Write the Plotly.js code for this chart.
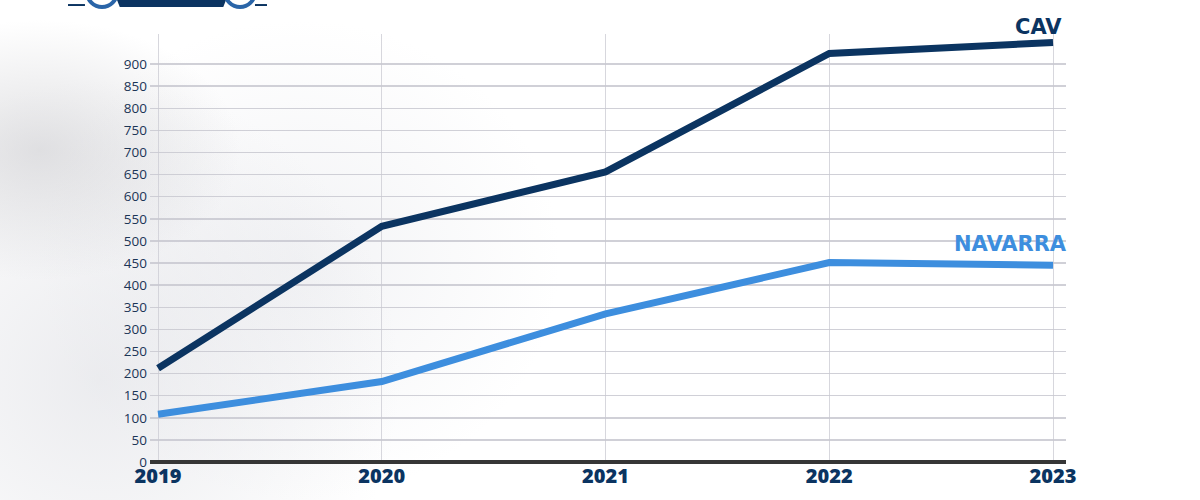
<!DOCTYPE html>
<html>
<head>
<meta charset="utf-8">
<script src="https://cdn.plot.ly/plotly-3.0.1.min.js"></script>
<style>
  html, body { margin: 0; padding: 0; }
  body {
    width: 1200px; height: 500px; overflow: hidden;
    background:
      radial-gradient(ellipse 200px 130px at 40px 150px, rgba(200,200,204,0.55), rgba(255,255,255,0) 100%),
      radial-gradient(ellipse 300px 300px at 100px 380px, rgba(222,223,228,0.6), rgba(255,255,255,0) 100%),
      radial-gradient(ellipse 260px 240px at 300px 260px, rgba(232,233,237,0.55), rgba(255,255,255,0) 100%),
      #ffffff;
  }
  #plot { width: 1200px; height: 500px; }
</style>
</head>
<body>
<div id="plot"></div>
<script>
const YEARS = ['2019', '2020', '2021', '2022', '2023'];
const CAV = [212, 533, 656, 924, 949];
const NAVARRA = [108, 182, 335, 451, 445];
const Y_TICKS = [0, 50, 100, 150, 200, 250, 300, 350, 400, 450, 500, 550, 600, 650, 700, 750, 800, 850, 900];

const NAVY = '#0b3461';
const LIGHT_BLUE = '#3d8ede';
const LOGO_BLUE = '#2a65a8';
const LABEL_FONT = 'Open Sans, Noto Sans, sans-serif';
const SERIES_FONT = 'DejaVu Sans, Open Sans, sans-serif';

function makeTraces() {
  return [
    {name: 'CAV', x: YEARS, y: CAV, type: 'scatter', mode: 'lines',
     line: {color: NAVY, width: 7}, hoverinfo: 'skip'},
    {name: 'NAVARRA', x: YEARS, y: NAVARRA, type: 'scatter', mode: 'lines',
     line: {color: LIGHT_BLUE, width: 7}, hoverinfo: 'skip'},
  ];
}

// the cut-off logo at the top left, in paper units
function logoShapes() {
  const rect = (x0, x1, y0, y1) => ({type: 'rect', xref: 'paper', yref: 'paper',
    x0: x0, x1: x1, y0: y0, y1: y1, fillcolor: NAVY, line: {width: 0}});
  const ring = (x0, x1) => ({type: 'circle', xref: 'paper', yref: 'paper',
    x0: x0, x1: x1, y0: 1.063, y1: 1.133,
    fillcolor: 'rgba(0,0,0,0)', line: {color: LOGO_BLUE, width: 4}});
  return [
    rect(-0.0895, -0.071, 1.0654, 1.0700),
    {type: 'path', xref: 'paper', yref: 'paper',
     path: 'M -0.036 1.0794 L 0.083 1.0794 L 0.080 1.063 L -0.033 1.063 Z',
     fillcolor: NAVY, line: {width: 0}},
    rect(0.1146, 0.1277, 1.0654, 1.0700),
    ring(-0.0688, -0.036),
    ring(0.0819, 0.1146),
  ];
}

function makeLayout() {
  const last = YEARS.length - 1;
  // thick dark base line along the bottom of the plot
  const baseLine = {type: 'line', xref: 'paper', yref: 'paper', layer: 'above',
    x0: 0, x1: 1, y0: 0, y1: 0, line: {color: '#363636', width: 4}};
  return {
    width: 1200, height: 500,
    margin: {t: 34, b: 38, l: 150, r: 134},
    paper_bgcolor: 'rgba(0,0,0,0)',
    plot_bgcolor: 'rgba(0,0,0,0)',
    showlegend: false,
    xaxis: {
      type: 'category',
      range: [-0.036, last + 0.058],
      showgrid: true, gridcolor: 'rgba(205,205,212,0.8)', gridwidth: 1,
      showline: false,
      ticks: '', zeroline: false,
      tickfont: {family: LABEL_FONT, size: 20, color: NAVY, weight: 800},
    },
    yaxis: {
      range: [0, 968],
      tickvals: Y_TICKS,
      showgrid: true, gridcolor: 'rgba(200,200,208,0.85)', gridwidth: 1.5,
      zeroline: false, showline: false, ticks: '',
      ticklabelstandoff: 2,
      tickfont: {family: LABEL_FONT, size: 13.5, color: '#1b3556', weight: 500},
    },
    annotations: [
      {x: last, y: CAV[last], xref: 'x', yref: 'y', text: '<b>CAV</b>',
       showarrow: false, xanchor: 'right', yanchor: 'bottom', xshift: 11, yshift: 1,
       font: {family: SERIES_FONT, size: 21, color: NAVY}},
      {x: last, y: NAVARRA[last], xref: 'x', yref: 'y', text: '<b>NAVARRA</b>',
       showarrow: false, xanchor: 'right', yanchor: 'bottom', xshift: 16, yshift: 7,
       font: {family: SERIES_FONT, size: 21, color: LIGHT_BLUE}},
    ],
    shapes: logoShapes().concat([baseLine]),
  };
}

Plotly.newPlot('plot', makeTraces(), makeLayout(), {displayModeBar: false, staticPlot: true});
</script>
</body>
</html>
